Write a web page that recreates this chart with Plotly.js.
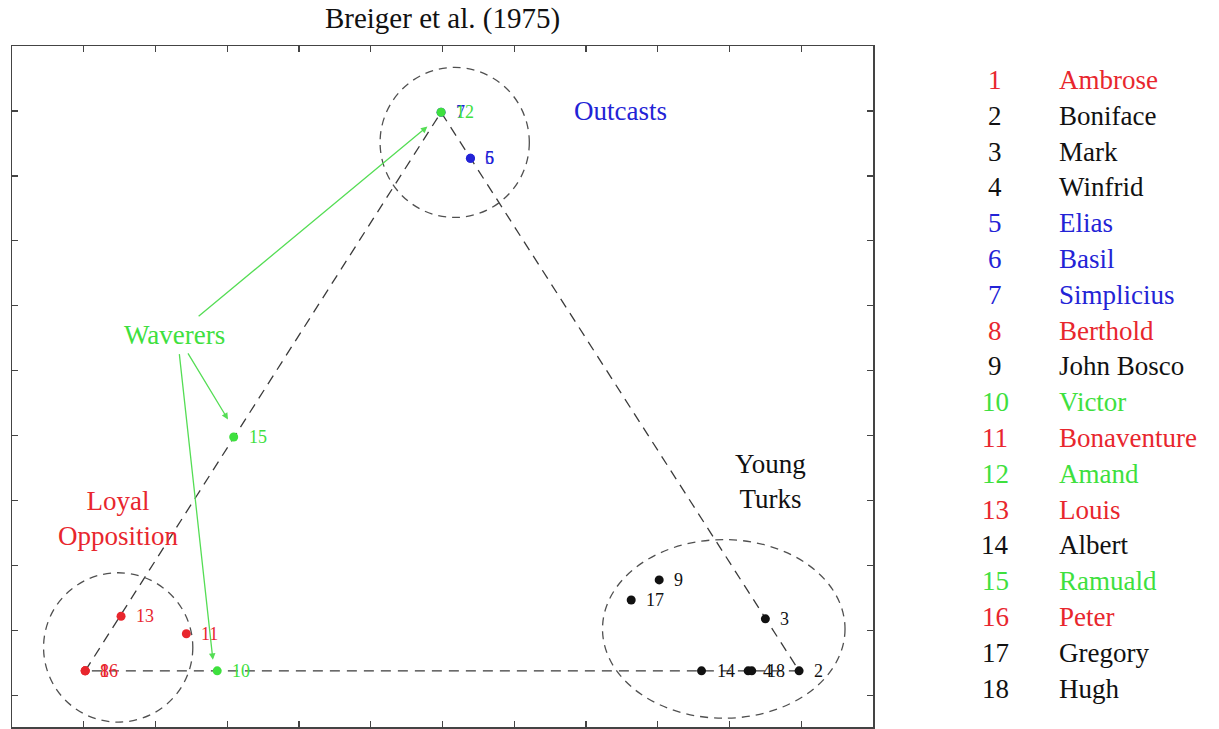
<!DOCTYPE html>
<html>
<head>
<meta charset="utf-8">
<script src="https://cdn.plot.ly/plotly-3.0.1.min.js"></script>
<style>html,body{margin:0;padding:0;background:#fff;}#chart{width:1219px;height:729px;}</style>
</head>
<body>
<div id="chart"></div>
<script>
// ---- data ----
const ids = [1,2,3,4,5,6,7,8,9,10,11,12,13,14,15,16,17,18];
const names = ['Ambrose','Boniface','Mark','Winfrid','Elias','Basil','Simplicius','Berthold','John Bosco','Victor','Bonaventure','Amand','Louis','Albert','Ramuald','Peter','Gregory','Hugh'];
const groups = ['loyal','young','young','young','outcast','outcast','outcast','loyal','young','waverer','loyal','waverer','loyal','young','waverer','loyal','young','young'];
const xs = [0.02, 9.97, 9.50, 9.26, 5.39, 5.39, 4.98, 0.02, 8.02, 1.86, 1.43, 4.98, 0.52, 8.61, 2.09, 0.02, 7.63, 9.31];
const ys = [0.38, 0.38, 1.18, 0.38, 8.27, 8.27, 8.98, 0.38, 1.78, 0.38, 0.95, 8.98, 1.22, 0.38, 3.98, 0.38, 1.47, 0.38];
const triangleMembers = [1, 7, 2, 1];
const groupLabels = ['Loyal<br>Opposition', 'Young<br>Turks', 'Outcasts', 'Waverers'];
const groupLabelKeys = ['loyal', 'young', 'outcast', 'waverer'];
const groupLabelX = [0.48, 9.57, 7.48, 1.27];
const groupLabelY = [2.73, 3.30, 9.00, 5.55];
// circles around groups: [x0, x1, y0, y1]
const circleX0 = [-0.56, 7.23, 4.13];
const circleX1 = [1.52, 10.61, 6.21];
const circleY0 = [-0.41, -0.35, 7.36];
const circleY1 = [1.89, 2.40, 9.67];
// waverer arrows: tail (from label) -> head (member)
const arrowTailX = [1.58, 1.44, 1.33];
const arrowTailY = [5.82, 5.29, 5.28];
const arrowTargets = [12, 15, 10];
const arrowHeadDX = [-0.19, -0.08, -0.06];
const arrowHeadDY = [-0.22, 0.27, 0.17];

const colors = {loyal:'#e8262d', young:'#111111', outcast:'#2323d6', waverer:'#3ee03e'};
const FONT = 'Liberation Serif, Times New Roman, serif';

const traces = [];
// dashed triangle
traces.push({
  type:'scatter', mode:'lines',
  x: triangleMembers.map(i => xs[i-1]),
  y: triangleMembers.map(i => ys[i-1]),
  line:{color:'#3a3a3a', width:1.3, dash:'10px,7px'},
  hoverinfo:'skip', showlegend:false
});
// points, one trace per point so overlap order matches
ids.forEach((id, i) => {
  traces.push({
    type:'scatter', mode:'markers',
    x:[xs[i]], y:[ys[i]],
    marker:{size:9, color:colors[groups[i]]},
    showlegend:false, hoverinfo:'text', text:[names[i]]
  });
});

const annotations = [];
// point labels
ids.forEach((id, i) => {
  annotations.push({
    x: xs[i], y: ys[i], xref:'x', yref:'y', text: String(id),
    showarrow:false, xanchor:'left', yanchor:'middle', xshift:13, yshift:0,
    font:{family:FONT, size:18, color:colors[groups[i]]}
  });
});
// group labels
groupLabels.forEach((t, i) => {
  annotations.push({
    x: groupLabelX[i], y: groupLabelY[i], xref:'x', yref:'y', text:t,
    showarrow:false, xanchor:'center', yanchor:'middle',
    font:{family:FONT, size:27, color:colors[groupLabelKeys[i]]}
  });
});
// waverer arrows
arrowTargets.forEach((id, i) => {
  annotations.push({
    x: xs[id-1] + arrowHeadDX[i], y: ys[id-1] + arrowHeadDY[i], xref:'x', yref:'y',
    ax: arrowTailX[i], ay: arrowTailY[i], axref:'x', ayref:'y',
    text:'', showarrow:true, arrowhead:2, arrowsize:1, arrowwidth:1.3, arrowcolor:'#55dd55'
  });
});
// side list
const L = 12, T = 46, W = 861, H = 681;
ids.forEach((id, i) => {
  const py = 80 + i * 35.8;
  const yp = (T + H - py) / H;
  annotations.push({
    x: (995 - L) / W, y: yp, xref:'paper', yref:'paper', text:String(id),
    showarrow:false, xanchor:'center', yanchor:'middle',
    font:{family:FONT, size:27, color:colors[groups[i]]}
  });
  annotations.push({
    x: (1057 - L) / W, y: yp, xref:'paper', yref:'paper', text:names[i],
    showarrow:false, xanchor:'left', yanchor:'middle',
    font:{family:FONT, size:27, color:colors[groups[i]]}
  });
});

const shapes = circleX0.map((x0, i) => ({
  type:'circle', xref:'x', yref:'y',
  x0:x0, x1:circleX1[i], y0:circleY0[i], y1:circleY1[i],
  line:{color:'#505050', width:1.3, dash:'8px,6px'}, layer:'above'
}));

const axisCommon = {
  showgrid:false, zeroline:false, showticklabels:false,
  showline:true, mirror:'allticks', linecolor:'#444', linewidth:1.5,
  ticks:'inside', ticklen:6, tickcolor:'#444', tickwidth:1.2,
  tick0:0, dtick:1, fixedrange:true
};

const layout = {
  width:1219, height:729,
  margin:{l:12, r:346, t:46, b:2},
  paper_bgcolor:'#fff', plot_bgcolor:'#fff',
  title:{text:'Breiger et al. (1975)', font:{family:FONT, size:29, color:'#111'},
         x:0.5, xref:'paper', y:1-18/729, yref:'container', yanchor:'middle'},
  xaxis:Object.assign({range:[-1, 11]}, axisCommon),
  yaxis:Object.assign({range:[-0.485, 10.0]}, axisCommon),
  showlegend:false,
  annotations:annotations,
  shapes:shapes
};

Plotly.newPlot('chart', traces, layout, {displayModeBar:false, staticPlot:true});
</script>
</body>
</html>
